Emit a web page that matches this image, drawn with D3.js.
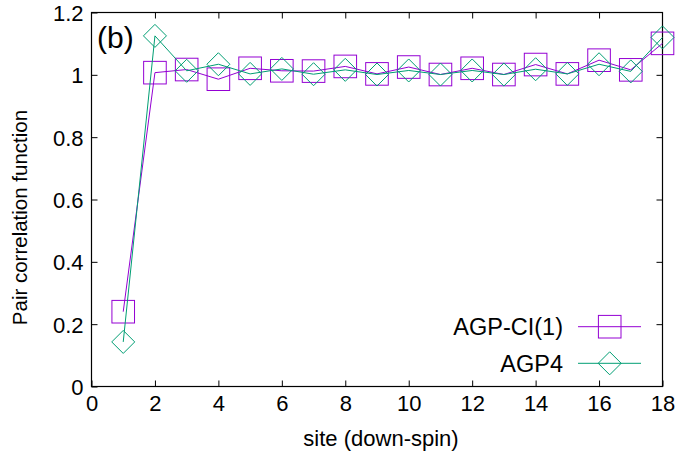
<!DOCTYPE html>
<html><head><meta charset="utf-8">
<script src="https://cdn.jsdelivr.net/npm/d3@7"></script>
<style>body{margin:0;background:#fff}svg{display:block}text{font-family:"Liberation Sans",Arial,sans-serif;fill:#000}</style>
</head><body>
<svg id="c" width="677" height="463"></svg>
<script>
const sites = [1,2,3,4,5,6,7,8,9,10,11,12,13,14,15,16,17,18];
const agpci1 = [0.240,1.007,1.017,0.986,1.021,1.013,1.012,1.027,1.003,1.025,1.001,1.021,1.001,1.033,1.003,1.047,1.016,1.101];
const agp4 = [0.143,1.125,1.013,1.034,1.003,1.019,1.002,1.016,1.001,1.014,1.001,1.014,1.001,1.018,1.003,1.034,1.011,1.120];
const xTicks = [0,2,4,6,8,10,12,14,16,18];
const yTicks = [0,0.2,0.4,0.6,0.8,1,1.2];
const seriesNames = ["AGP-CI(1)","AGP4"];
const colors = ["#9400d3","#009e73"];

const svg = d3.select("#c");
const L=91.5, R=662.5, T=12.5, B=386.5;
const x = d3.scaleLinear().domain([0,18]).range([L,R]);
const y = d3.scaleLinear().domain([0,1.2]).range([B,T]);
const fs = 22;
const ff = "Liberation Sans, Arial, sans-serif";

const tl = 6;
const g = svg.append("g");
g.append("g").attr("transform",`translate(0,${B})`).call(d3.axisBottom(x).tickValues(xTicks).tickSizeInner(-tl).tickSizeOuter(0).tickPadding(0).tickFormat(d3.format("d")))
 .call(a=>{a.select(".domain").remove();a.selectAll("text").attr("font-size",fs).attr("font-family",ff).attr("y",24).attr("dy",0);});
g.append("g").attr("transform",`translate(0,${T})`).call(d3.axisTop(x).tickValues(xTicks.slice(1,-1)).tickSizeInner(-tl).tickSizeOuter(0).tickFormat(""))
 .call(a=>a.select(".domain").remove());
g.append("g").attr("transform",`translate(${L},0)`).call(d3.axisLeft(y).tickValues(yTicks).tickSizeInner(-tl).tickSizeOuter(0).tickPadding(0).tickFormat(d=>String(+d.toFixed(1))))
 .call(a=>{a.select(".domain").remove();a.selectAll("text").attr("font-size",fs).attr("font-family",ff).attr("x",-8).attr("dy","0.36em");});
g.append("g").attr("transform",`translate(${R},0)`).call(d3.axisRight(y).tickValues(yTicks.slice(1,-1)).tickSizeInner(-tl).tickSizeOuter(0).tickFormat(""))
 .call(a=>a.select(".domain").remove());
g.selectAll(".tick line").attr("stroke","#000");

svg.append("rect").attr("x",L).attr("y",T).attr("width",R-L).attr("height",B-T).attr("fill","none").attr("stroke","#000").attr("stroke-width",1.2);

const line = d3.line().x((d,i)=>x(sites[i])).y(d=>y(d));
const data=[agpci1,agp4];
const sq = 11.3, dm = 11.5;
function marker(sel,k,cx,cy){
  if(k===0) sel.append("rect").attr("x",cx-sq).attr("y",cy-sq).attr("width",2*sq).attr("height",2*sq).attr("fill","none").attr("stroke",colors[0]).attr("stroke-width",1);
  else sel.append("path").attr("d",`M${cx-dm},${cy}L${cx},${cy-dm}L${cx+dm},${cy}L${cx},${cy+dm}Z`).attr("fill","none").attr("stroke",colors[1]).attr("stroke-width",1);
}
data.forEach((vals,k)=>{
  const gg=svg.append("g");
  gg.append("path").attr("d",line(vals)).attr("fill","none").attr("stroke",colors[k]).attr("stroke-width",1);
  vals.forEach((v,i)=>marker(gg,k,x(sites[i]),y(v)));
});

const legY=[326.7,363.3];
seriesNames.forEach((n,k)=>{
  svg.append("text").attr("x",563).attr("y",legY[k]).attr("dy","0.36em").attr("text-anchor","end").attr("font-size",23.5).text(n);
  svg.append("line").attr("x1",578).attr("x2",641).attr("y1",legY[k]).attr("y2",legY[k]).attr("stroke",colors[k]).attr("stroke-width",1);
  marker(svg,k,609.7,legY[k]);
});

svg.append("text").attr("x",97).attr("y",48).attr("font-size",30).text("(b)");
svg.append("text").attr("x",(L+R)/2+4).attr("y",446).attr("text-anchor","middle").attr("font-size",fs).text("site (down-spin)");
svg.append("text").attr("transform",`translate(27,${(T+B)/2+18}) rotate(-90)`).attr("text-anchor","middle").attr("font-size",20.5).text("Pair correlation function");
</script>
</body></html>
